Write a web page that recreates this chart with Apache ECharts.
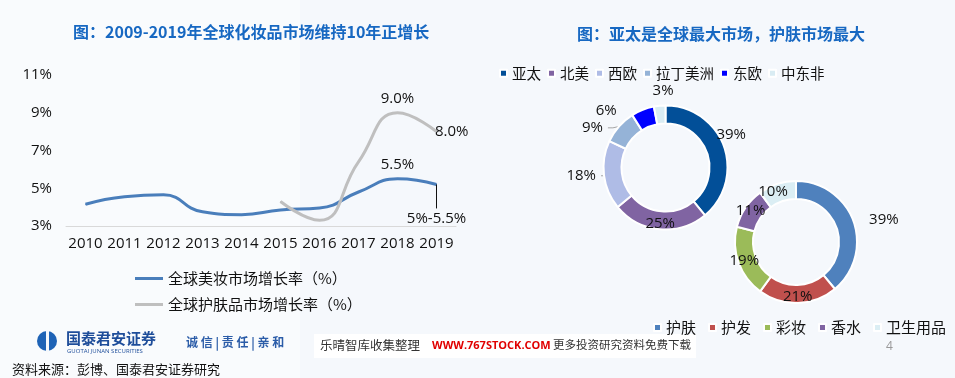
<!DOCTYPE html>
<html>
<head>
<meta charset="utf-8">
<script src="https://cdn.jsdelivr.net/npm/echarts@6/dist/echarts.min.js"></script>
<style>
  html, body { margin: 0; padding: 0; background: #f5f8fc; }
  #main { width: 955px; height: 378px; }
</style>
</head>
<body>
<div id="main"></div>
<script>
// --- data ---
const years = ['2010', '2011', '2012', '2013', '2014', '2015', '2016', '2017', '2018', '2019'];
const beautyGrowth = [4.15, 4.55, 4.65, 3.75, 3.6, 3.85, 3.95, 4.8, 5.5, 5.2];
const skincareGrowth = [null, null, null, null, null, 4.3, 3.3, 6.4, 9.0, 8.0];
const forecastRange = '5%-5.5%';
const forecastLow = 3.93;

const regionNames = ['亚太', '北美', '西欧', '拉丁美洲', '东欧', '中东非'];
const regionShare = [39, 25, 18, 9, 6, 3];
const categoryNames = ['护肤', '护发', '彩妆', '香水', '卫生用品'];
const categoryShare = [39, 21, 19, 11, 10];

const regionColors = ['#024f98', '#8064a2', '#afbce6', '#95b3d7', '#0000ff', '#d9ecf3'];
const categoryColors = ['#4f81bd', '#c0504d', '#9bbb59', '#8064a2', '#dbeef4'];

const FONT = '"Open Sans", "Noto Sans CJK SC", sans-serif';
const CJK = '"Noto Sans CJK SC", sans-serif';

// labels shown on the line chart (index -> position)
const beautyLabels = { 8: 'top' };
const skincareLabels = { 8: 'top', 9: 'right' };

function lineData(values, labels) {
    return values.map((v, i) => {
        if (!(i in labels)) return v;
        return {
            value: v,
            label: { show: true, position: labels[i], distance: labels[i] === 'right' ? -2 : 6 }
        };
    });
}

// donut label placement per slice
const regionLabelCfg = [
    { position: 'inside' },
    { position: 'inside' },
    { position: 'outside', line: true, len: 4, len2: 4 },
    { position: 'outside', line: true, len: 6, len2: 5 },
    { position: 'outside', len: 10, len2: 2 },
    { position: 'outside', len: 12, len2: 0 }
];
const categoryLabelCfg = [
    { position: 'outside' },
    { position: 'inside' },
    { position: 'inside' },
    { position: 'inside' },
    { position: 'inside' }
];

function pieData(names, values, colors, cfg) {
    return names.map((n, i) => ({
        name: n,
        value: values[i],
        itemStyle: { color: colors[i] },
        label: { position: cfg[i].position },
        labelLine: {
            show: !!cfg[i].line,
            length: cfg[i].len !== undefined ? cfg[i].len : 5,
            length2: cfg[i].len2 !== undefined ? cfg[i].len2 : 6
        }
    }));
}

const chart = echarts.init(document.getElementById('main'), null, { renderer: 'canvas' });

const option = {
    animation: false,
    backgroundColor: '#f5f8fc',
    textStyle: { fontFamily: FONT },
    title: [
        {
            text: '图：2009-2019年全球化妆品市场维持10年正增长',
            left: 68, top: 19,
            textStyle: { color: '#1768c2', fontSize: 16, fontWeight: 'bold', fontFamily: CJK }
        },
        {
            text: '图：亚太是全球最大市场，护肤市场最大',
            left: 572, top: 21,
            textStyle: { color: '#1768c2', fontSize: 16, fontWeight: 'bold', fontFamily: CJK }
        }
    ],
    legend: [
        {
            data: ['全球美妆市场增长率（%）', '全球护肤品市场增长率（%）'],
            orient: 'vertical',
            left: 135, top: 269, padding: 0,
            icon: 'rect', itemWidth: 28, itemHeight: 3, itemGap: 7,
            textStyle: { fontSize: 15, color: '#111', fontFamily: CJK, lineHeight: 19 }
        },
        {
            data: regionNames,
            left: 499, top: 66, padding: 0,
            icon: 'rect', itemWidth: 7, itemHeight: 7, itemGap: 6,
            textStyle: { fontSize: 14.5, color: '#111', fontFamily: CJK }
        },
        {
            data: categoryNames,
            left: 653, top: 320, padding: 0, width: 300,
            icon: 'rect', itemWidth: 7, itemHeight: 7, itemGap: 12,
            textStyle: { fontSize: 15, color: '#111', fontFamily: CJK }
        }
    ],
    grid: { left: 66, right: 499, top: 75, bottom: 152 },
    xAxis: {
        type: 'category',
        data: years,
        boundaryGap: true,
        axisLine: { lineStyle: { color: '#d9d9d9', width: 1 } },
        axisTick: { show: false },
        axisLabel: { color: '#111', fontSize: 15, margin: 10, interval: 0 }
    },
    yAxis: {
        type: 'value',
        min: 3, max: 11, interval: 2,
        axisLine: { show: false },
        axisTick: { show: false },
        splitLine: { show: false },
        axisLabel: { color: '#111', fontSize: 15, margin: 14, formatter: '{value}%' }
    },
    series: [
        {
            name: '全球美妆市场增长率（%）',
            type: 'line',
            data: lineData(beautyGrowth, beautyLabels),
            smooth: 0.5,
            symbol: 'circle', symbolSize: 1,
            lineStyle: { color: '#4a7ebb', width: 3 },
            itemStyle: { color: '#4a7ebb' },
            label: { color: '#111', fontSize: 15, formatter: p => p.value.toFixed(1) + '%' },
            markLine: {
                silent: true,
                symbol: ['none', 'none'],
                lineStyle: { color: '#111', width: 1, type: 'solid' },
                label: { position: 'end', formatter: forecastRange, color: '#111', fontSize: 15, distance: 3 },
                data: [[
                    { xAxis: years[9], yAxis: beautyGrowth[9] },
                    { xAxis: years[9], yAxis: forecastLow }
                ]]
            }
        },
        {
            name: '全球护肤品市场增长率（%）',
            type: 'line',
            data: lineData(skincareGrowth, skincareLabels),
            smooth: 0.5,
            connectNulls: false,
            symbol: 'circle', symbolSize: 1,
            lineStyle: { color: '#bfbfbf', width: 3 },
            itemStyle: { color: '#bfbfbf' },
            label: { color: '#111', fontSize: 15, formatter: p => p.value.toFixed(1) + '%' }
        },
        {
            name: '地区',
            type: 'pie',
            center: [665.5, 167.5],
            radius: [44, 62],
            startAngle: 90,
            clockwise: true,
            itemStyle: { borderColor: '#ffffff', borderWidth: 2 },
            label: { color: '#111', fontSize: 15, formatter: '{c}%' },
            labelLine: { lineStyle: { color: '#a6a6a6', width: 1 } },
            labelLayout: function (params) {
                if (params.dataIndex === 0) return { dx: 13, dy: -14 };
                if (params.dataIndex === 5) return { dx: 20, dy: -3 };
            },
            data: pieData(regionNames, regionShare, regionColors, regionLabelCfg)
        },
        {
            name: '品类',
            type: 'pie',
            center: [796, 242],
            radius: [43, 61],
            startAngle: 90,
            clockwise: true,
            itemStyle: { borderColor: '#ffffff', borderWidth: 2 },
            label: { color: '#111', fontSize: 15, formatter: '{c}%' },
            labelLine: { lineStyle: { color: '#a6a6a6', width: 1 } },
            labelLayout: function (params) {
                if (params.dataIndex === 4) return { dx: -6, dy: 2 };
            },
            data: pieData(categoryNames, categoryShare, categoryColors, categoryLabelCfg)
        }
    ],
    graphic: [
        // faint background shape
        {
            type: 'polygon', z: -10, silent: true,
            shape: { points: [[0, 0], [300, 0], [300, 378], [0, 378]] },
            style: { fill: 'rgba(255,255,255,0.45)' }
        },
        // footer logo
        {
            type: 'circle', shape: { cx: 47, cy: 341, r: 10 },
            style: { fill: '#1e63b6' }
        },
        {
            type: 'rect', shape: { x: 46, y: 330, width: 3, height: 22 },
            style: { fill: '#f5f8fc' }
        },
        {
            type: 'text', left: 66, top: 331,
            style: { text: '国泰君安证券', fill: '#1e4d9a', font: 'bold 15px ' + CJK }
        },
        {
            type: 'text', left: 67, top: 348,
            style: { text: 'GUOTAI JUNAN SECURITIES', fill: '#1e4d9a', font: '6px ' + FONT }
        },
        {
            type: 'text', left: 186, top: 336,
            style: { text: '诚 信 | 责 任 | 亲 和', fill: '#2b5ca8', font: 'bold 12px ' + CJK }
        },
        {
            type: 'rect', shape: { x: 314, y: 334, width: 382, height: 24 },
            style: { fill: '#ffffff' }
        },
        {
            type: 'text', left: 320, top: 339,
            style: { text: '乐晴智库收集整理', fill: '#333', font: '12.5px ' + CJK }
        },
        {
            type: 'text', left: 432, top: 340,
            style: { text: 'WWW.767STOCK.COM', fill: '#e00000', font: 'bold 11px ' + FONT }
        },
        {
            type: 'text', left: 553, top: 339,
            style: { text: '更多投资研究资料免费下载', fill: '#333', font: '11.5px ' + CJK }
        },
        {
            type: 'text', left: 886, top: 341,
            style: { text: '4', fill: '#999', font: '12px ' + FONT }
        },
        {
            type: 'text', left: 12, top: 363,
            style: { text: '资料来源：彭博、国泰君安证券研究', fill: '#111', font: '13px ' + CJK }
        }
    ]
};

chart.setOption(option);

window.addEventListener('resize', function () {
    chart.resize();
});
</script>
</body>
</html>
